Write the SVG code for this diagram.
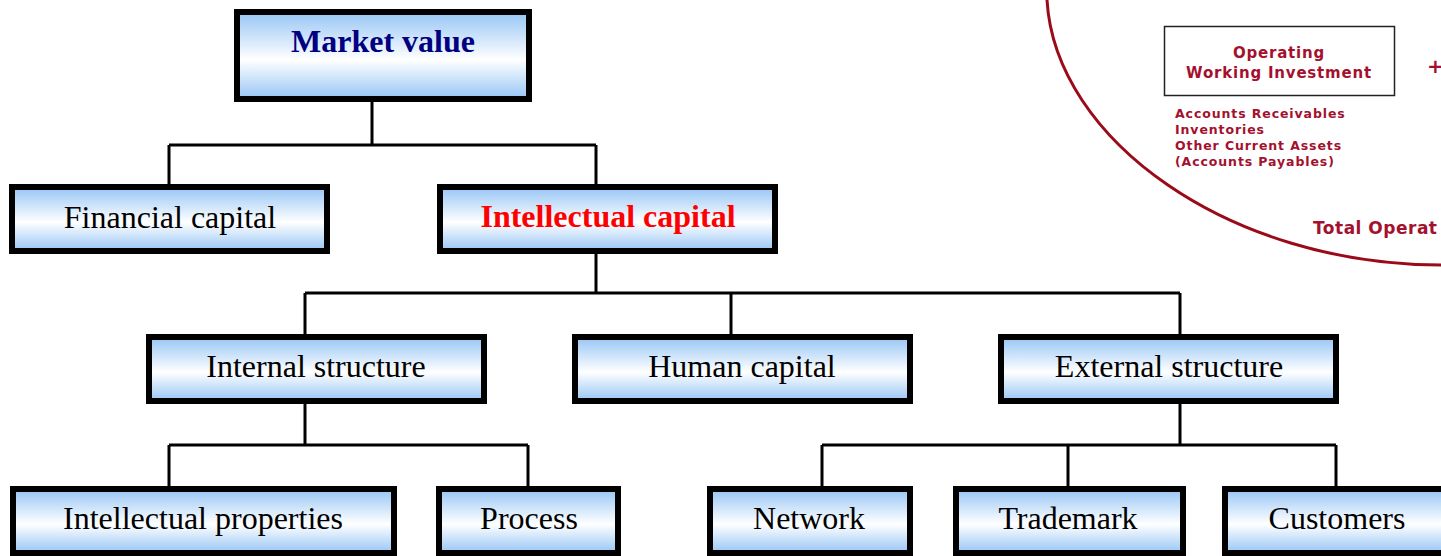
<svg xmlns="http://www.w3.org/2000/svg" width="1441" height="556" viewBox="0 0 1441 556">
<defs>
<linearGradient id="g" x1="0" y1="0" x2="0" y2="1">
<stop offset="0" stop-color="#96c5f5"/>
<stop offset="0.55" stop-color="#ffffff"/>
<stop offset="1" stop-color="#96c5f5"/>
</linearGradient>
<style>
.box{fill:url(#g);stroke:#000;stroke-width:6}
.t{font-family:"Liberation Serif","Times New Roman",serif;font-size:32px;text-anchor:middle;fill:#000}
.b{font-weight:bold}
.c{fill:none;stroke:#000;stroke-width:3}
.r{font-family:"DejaVu Sans",Verdana,sans-serif;font-weight:bold;fill:#a3112e}
</style>
</defs>
<g id="background">
<path d="M1047,0 C1055,140 1230,265 1441,265" fill="none" stroke="#9a0a18" stroke-width="3"/>
<rect x="1164.5" y="26.5" width="230" height="69" fill="#fff" stroke="#222" stroke-width="1.5"/>
<text class="r" x="1279" y="58" font-size="15" letter-spacing="0.8" text-anchor="middle">Operating</text>
<text class="r" x="1279" y="78" font-size="15" letter-spacing="0.8" text-anchor="middle">Working Investment</text>
<text class="r" x="1427" y="73" font-size="20" font-weight="normal">+</text>
<text class="r" x="1175" y="118" font-size="12.5" letter-spacing="0.9">Accounts Receivables</text>
<text class="r" x="1175" y="134" font-size="12.5" letter-spacing="0.9">Inventories</text>
<text class="r" x="1175" y="150" font-size="12.5" letter-spacing="0.9">Other Current Assets</text>
<text class="r" x="1175" y="166" font-size="12.5" letter-spacing="0.9">(Accounts Payables)</text>
<text class="r" x="1313" y="234" font-size="17" letter-spacing="0.5">Total Operat</text>
</g>
<g id="connectors">
<path class="c" d="M372,100 V145 M169,145 H596 M169,145 V186 M596,145 V186"/>
<path class="c" d="M596,250 V293 M305,293 H1180 M305,293 V336 M731,293 V336 M1180,293 V336"/>
<path class="c" d="M305,400 V445 M169,445 H528 M169,445 V488 M528,445 V488"/>
<path class="c" d="M1180,400 V445 M822,445 H1336 M822,445 V488 M1068,445 V488 M1336,445 V488"/>
</g>
<g id="market-value"><rect class="box" x="237" y="12" width="292" height="87"/><text class="t b" x="383" y="52" style="fill:#000080;font-size:32px">Market value</text></g>
<g id="financial-capital"><rect class="box" x="12" y="187" width="315" height="64"/><text class="t" x="170" y="228">Financial capital</text></g>
<g id="intellectual-capital"><rect class="box" x="440" y="187" width="335" height="64"/><text class="t b" x="608" y="227" style="fill:#ff0000">Intellectual capital</text></g>
<g id="internal-structure"><rect class="box" x="149" y="337" width="335" height="64"/><text class="t" x="316" y="377">Internal structure</text></g>
<g id="human-capital"><rect class="box" x="575" y="337" width="335" height="64"/><text class="t" x="742" y="377">Human capital</text></g>
<g id="external-structure"><rect class="box" x="1001" y="337" width="335" height="64"/><text class="t" x="1169" y="377">External structure</text></g>
<g id="intellectual-properties"><rect class="box" x="13" y="489" width="381" height="64"/><text class="t" x="203" y="529">Intellectual properties</text></g>
<g id="process"><rect class="box" x="439" y="489" width="179" height="64"/><text class="t" x="529" y="529">Process</text></g>
<g id="network"><rect class="box" x="710" y="489" width="200" height="64"/><text class="t" x="809" y="529">Network</text></g>
<g id="trademark"><rect class="box" x="956" y="489" width="227" height="64"/><text class="t" x="1068" y="529">Trademark</text></g>
<g id="customers"><rect class="box" x="1225" y="489" width="230" height="64"/><text class="t" x="1337" y="529">Customers</text></g>
</svg>
